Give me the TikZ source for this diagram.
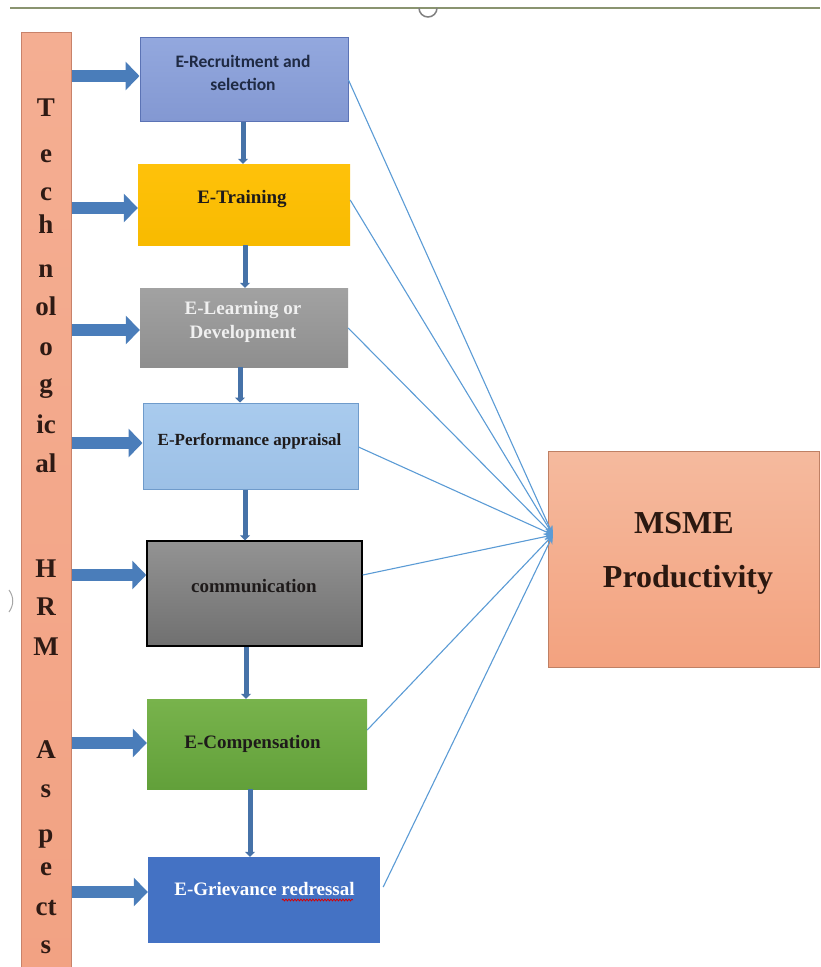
\documentclass[tikz,border=0pt]{standalone}
\usepackage{fontspec}
\setmainfont{Liberation Serif}
\newfontfamily\calib{Carlito}
\usetikzlibrary{arrows.meta,decorations.pathmorphing}
\definecolor{bartop}{HTML}{F4AE92}
\definecolor{barfill}{HTML}{F2A283}
\definecolor{barline}{HTML}{C8826A}
\definecolor{arrowblue}{HTML}{4A7DBA}
\definecolor{vblue}{HTML}{4672A8}
\definecolor{thinblue}{HTML}{5B9BD5}
\definecolor{darktxt}{HTML}{1E1A1A}
\definecolor{bartxt}{HTML}{2E1A14}
\definecolor{topline}{HTML}{8A9470}
\definecolor{b1top}{HTML}{93A8DE}
\definecolor{b1bot}{HTML}{8398D2}
\definecolor{b1line}{HTML}{5B73B5}
\definecolor{b2top}{HTML}{FFC20A}
\definecolor{b2bot}{HTML}{F8BA00}
\definecolor{b3top}{HTML}{A2A2A2}
\definecolor{b3bot}{HTML}{8E8E8E}
\definecolor{b4top}{HTML}{A9CBEE}
\definecolor{b4bot}{HTML}{9CC0E6}
\definecolor{b4line}{HTML}{6F9BCB}
\definecolor{b5top}{HTML}{939393}
\definecolor{b5bot}{HTML}{707070}
\definecolor{b6top}{HTML}{78B34C}
\definecolor{b6bot}{HTML}{62A03A}
\definecolor{b7fill}{HTML}{4472C4}
\definecolor{mtop}{HTML}{F5BA9E}
\definecolor{mbot}{HTML}{F3A27F}
\definecolor{mline}{HTML}{BF8064}
\definecolor{navytxt}{HTML}{1F2A44}
\definecolor{msmetxt}{HTML}{2B1810}
\tikzset{
  boxnode/.style={rectangle, inner sep=0pt},
  boxtxt/.style={anchor=base, inner sep=0pt, font=\fontsize{19}{23}\selectfont\bfseries, text=darktxt},
  barletter/.style={anchor=base, inner sep=0pt, font=\fontsize{27}{30}\selectfont\bfseries, text=bartxt},
  blockarrow/.style={draw=arrowblue, line width=12pt, -{Triangle[length=14pt,width=28pt]}},
  vlink/.style={draw=vblue, line width=5pt, -{Triangle[length=5pt,width=10pt]}},
  thinlink/.style={draw=thinblue, line width=1.1pt, -{Stealth[length=9pt,width=7pt]}},
}
\begin{document}
\begin{tikzpicture}[x=1pt,y=-1pt]
\useasboundingbox (0,0) rectangle (820,967);
% top border line and small artifacts
\draw[draw=topline, line width=1.5pt] (10,8) -- (820,8);
\draw[draw=gray, line width=1.5pt] (419,8) arc[start angle=180, end angle=0, radius=9];
\draw[draw=gray!70, line width=1pt] (9,590) .. controls (14,597) and (14,605) .. (9,612);

% left bar
\node[boxnode, minimum width=50pt, minimum height=945pt, draw=barline, line width=1pt,
      top color=bartop, bottom color=barfill] (bar) at (46,504.5) {};

% boxes
\node[boxnode, minimum width=208pt, minimum height=84pt, draw=b1line, line width=1pt,
      top color=b1top, bottom color=b1bot] (b1) at (244,79) {};
\node[boxnode, minimum width=212pt, minimum height=81pt,
      top color=b2top, bottom color=b2bot] (b2) at (244,204.5) {};
\node[boxnode, minimum width=208pt, minimum height=79pt,
      top color=b3top, bottom color=b3bot] (b3) at (244,327.5) {};
\node[boxnode, minimum width=215pt, minimum height=86pt, draw=b4line, line width=1pt,
      top color=b4top, bottom color=b4bot] (b4) at (250.5,446) {};
\node[boxnode, minimum width=215pt, minimum height=105pt, draw=black, line width=1.5pt,
      top color=b5top, bottom color=b5bot] (b5) at (254.5,593.5) {};
\node[boxnode, minimum width=220pt, minimum height=90pt,
      top color=b6top, bottom color=b6bot] (b6) at (257,744) {};
\node[boxnode, minimum width=232pt, minimum height=86pt, fill=b7fill] (b7) at (264,900) {};
\node[boxnode, minimum width=271pt, minimum height=216pt, draw=mline, line width=1pt,
      top color=mtop, bottom color=mbot] (msme) at (683.5,559) {};

% box texts
\node[boxtxt, font=\calib\fontsize{17.5}{21}\selectfont\bfseries, text=navytxt] (t1a) at (243,67) {E-Recruitment and};
\node[boxtxt, font=\calib\fontsize{17.5}{21}\selectfont\bfseries, text=navytxt] (t1b) at (243,90) {selection};
\node[boxtxt] (t2) at (242,203) {E-Training};
\node[boxtxt, text=white!94!black] (t3a) at (243,314) {E-Learning or};
\node[boxtxt, text=white!94!black] (t3b) at (243,338) {Development};
\node[boxtxt, font=\fontsize{17}{21}\selectfont\bfseries] (t4) at (249.5,445) {E-Performance appraisal};
\node[boxtxt] (t5) at (254,592) {communication};
\node[boxtxt] (t6) at (252.5,748) {E-Compensation};
\node[boxtxt, text=white] (t7) at (264.5,895) {E-Grievance redressal};
\draw[red!85!black, line width=0.8pt, decorate, decoration={snake, amplitude=0.9pt, segment length=3pt}]
  (282,900) -- (353,900);
\node[anchor=base, inner sep=0pt, font=\fontsize{32}{40}\selectfont\bfseries, text=msmetxt] (m1) at (684,533) {MSME};
\node[anchor=base, inner sep=0pt, font=\fontsize{32}{40}\selectfont\bfseries, text=msmetxt] (m2) at (688,587) {Productivity};

% bar letters
\foreach \ch/\yy [count=\i] in {T/116, e/162, c/200, h/233, n/277, ol/315, o/355, g/392, ic/433, al/472,
                                H/577, R/615, M/655, A/758, s/797, p/842, e/875, ct/915, s/953}
  \node[barletter] (l\i) at (46,\yy) {\ch};

% block arrows from bar
\draw[blockarrow] (bar.east |- 0,76) -- (b1.west |- 0,76);
\draw[blockarrow] (bar.east |- 0,208) -- (b2.west |- 0,208);
\draw[blockarrow] (bar.east |- 0,330) -- (b3.west |- 0,330);
\draw[blockarrow] (bar.east |- 0,443) -- (b4.west |- 0,443);
\draw[blockarrow] (bar.east |- 0,575) -- (b5.west |- 0,575);
\draw[blockarrow] (bar.east |- 0,743) -- (b6.west |- 0,743);
\draw[blockarrow] (bar.east |- 0,892) -- (b7.west |- 0,892);

% vertical links
\draw[vlink] (b1.south -| 243,0) -- (b2.north -| 243,0);
\draw[vlink] (b2.south -| 245,0) -- (b3.north -| 245,0);
\draw[vlink] (b3.south -| 240,0) -- (b4.north -| 240,0);
\draw[vlink] (b4.south -| 245,0) -- (b5.north -| 245,0);
\draw[vlink] (b5.south -| 246,0) -- (b6.north -| 246,0);
\draw[vlink] (b6.south -| 250,0) -- (b7.north -| 250,0);

% thin links to MSME
\coordinate (conv) at (553,535);
\draw[thinlink] (b1.east |- 0,80) -- (conv);
\draw[thinlink] (b2.east |- 0,200) -- (conv);
\draw[thinlink] (b3.east |- 0,328) -- (conv);
\draw[thinlink] (b4.east |- 0,447) -- (conv);
\draw[thinlink] (b5.east |- 0,575) -- (conv);
\draw[thinlink] (b6.east |- 0,730) -- (conv);
\draw[thinlink] ([xshift=3pt]b7.east |- 0,887) -- (conv);
\end{tikzpicture}
\end{document}
